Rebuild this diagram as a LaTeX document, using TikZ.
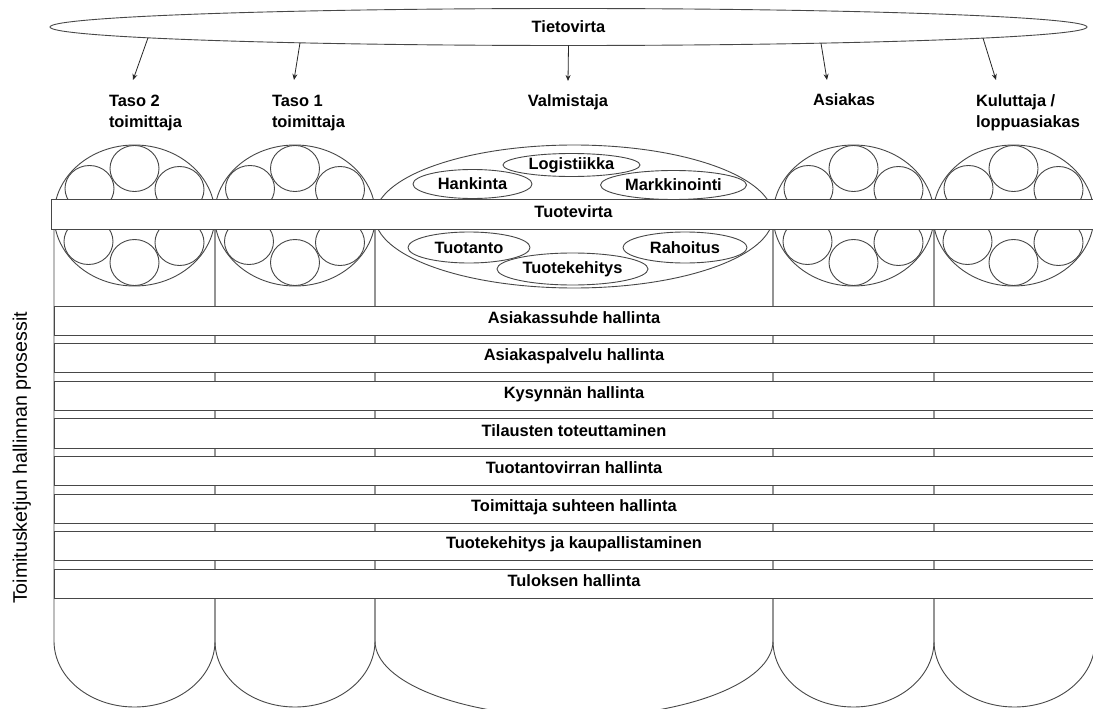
\documentclass[tikz,border=0pt]{standalone}
\usepackage{fontspec}
\setmainfont{Liberation Sans}
\usetikzlibrary{shapes.geometric,arrows.meta}

\begin{document}
\begin{tikzpicture}[x=1pt,y=-1pt,line width=0.9pt,
  ln/.style={draw=black!72},
  bold16/.style={font=\bfseries\fontsize{16.4}{21}\selectfont},
  lbl/.style={bold16,inner sep=0pt,outer sep=0pt},
  bigell/.style={ellipse,ln,inner sep=0pt,outer sep=0pt},
  smallell/.style={ellipse,ln,inner sep=0pt,outer sep=0pt,minimum width=49pt,minimum height=46pt},
  inell/.style={ellipse,ln,inner sep=0pt,outer sep=0pt,bold16},
  bar/.style={rectangle,ln,fill=white,inner xsep=0pt,inner ysep=0pt,outer sep=0pt,
    minimum height=29.3pt,text height=12pt,text depth=6.7pt,bold16},
  arr/.style={draw=black!85,line width=0.8pt,-{Stealth[length=6pt,width=5pt]}}]

\useasboundingbox (0,0) rectangle (1093,709);
\fill[white] (0,0) rectangle (1093,709);
\clip (0,0) rectangle (1093,709);

% column outlines with rounded bottoms
\foreach \xa/\xb/\ry in {54/215/66,215/375/66,375/773/76,773/934/66,934/1095/66}{
  \pgfmathsetmacro\cx{(\xa+\xb)/2}
  \pgfmathsetmacro\rx{(\xb-\xa)/2}
  \draw[ln] (\xa,229) -- (\xa,641)
    .. controls (\xa,641+0.5523*\ry) and (\cx-0.5523*\rx,641+\ry) .. (\cx,641+\ry)
    .. controls (\cx+0.5523*\rx,641+\ry) and (\xb,641+0.5523*\ry) .. (\xb,641)
    -- (\xb,229);
}

% partner ellipses with their six member circles
\foreach \n/\cx in {c1/134.5,c2/295,c4/853.5,c5/1013.5}{
  \node[bigell,minimum width=161pt,minimum height=141pt] (\n) at (\cx,215.5) {};
  \node[smallell] (\n-a) at (\cx,168.5) {};
  \node[smallell] (\n-b) at (\cx-45,188.5) {};
  \node[smallell] (\n-c) at (\cx+45,189.5) {};
  \node[smallell] (\n-d) at (\cx-46,241.5) {};
  \node[smallell] (\n-e) at (\cx+45,242.5) {};
  \node[smallell] (\n-f) at (\cx,262.5) {};
}

% manufacturer ellipse with its functions
\node[bigell,minimum width=398pt,minimum height=143pt] (c3) at (574,216.5) {};
\node[inell,minimum width=137pt,minimum height=23pt] (log) at (571.5,165) {Logistiikka};
\node[inell,minimum width=119pt,minimum height=29pt] (han) at (472.5,184) {Hankinta};
\node[inell,minimum width=146pt,minimum height=29pt] (mar) at (673.5,185) {Markkinointi};
\node[inell,minimum width=122pt,minimum height=31pt] (tuo) at (469,247.5) {Tuotanto};
\node[inell,minimum width=124pt,minimum height=31pt] (rah) at (685,247.5) {Rahoitus};
\node[inell,minimum width=151pt,minimum height=32pt] (tke) at (572.5,269) {Tuotekehitys};

% product flow bar
\node[bar,minimum width=1045pt] (pf) at (573.5,214.5) {Tuotevirta};

% process bars
\foreach \i/\t in {0/Asiakassuhde hallinta,1/Asiakaspalvelu hallinta,2/Kysynnän hallinta,
  3/Tilausten toteuttaminen,4/Tuotantovirran hallinta,5/Toimittaja suhteen hallinta,
  6/Tuotekehitys ja kaupallistaminen,7/Tuloksen hallinta}{
  \node[bar,minimum width=1040pt] (p\i) at (574,320.6+37.6*\i) {\t};
}

% information flow
\node[ellipse,ln,inner sep=0pt,outer sep=0pt,minimum width=1037pt,minimum height=37pt,bold16]
  (tv) at (568.5,27) {Tietovirta};
% points on the lower rim where the arrows leave
\coordinate (s1) at (148,37.8);
\coordinate (s2) at (300,42.8);
\coordinate (s4) at (821,43.2);
\coordinate (s5) at (983,38.1);
\coordinate (a1) at (133,80);
\coordinate (a2) at (294,80);
\coordinate (a3) at (568,81);
\coordinate (a4) at (827,80);
\coordinate (a5) at (996,80);
\draw[arr] (s1) -- (a1);
\draw[arr] (s2) -- (a2);
\draw[arr] (tv.south) -- (a3);
\draw[arr] (s4) -- (a4);
\draw[arr] (s5) -- (a5);

% chain member labels
\node[lbl,anchor=north west,align=left] (l1) at (109,95) {Taso 2\\toimittaja};
\node[lbl,anchor=north west,align=left] (l2) at (272,95) {Taso 1\\toimittaja};
\node[lbl,anchor=base] (l3) at (568,106.7) {Valmistaja};
\node[lbl,anchor=base] (l4) at (844,106) {Asiakas};
\node[lbl,anchor=north west,align=left] (l5) at (976,95) {Kuluttaja /\\loppuasiakas};

% side title
\node[inner sep=0pt,anchor=base,rotate=90,font=\fontsize{19.6}{23}\selectfont]
  (side) at (27,458) {Toimitusketjun hallinnan prosessit};
\end{tikzpicture}
\end{document}
